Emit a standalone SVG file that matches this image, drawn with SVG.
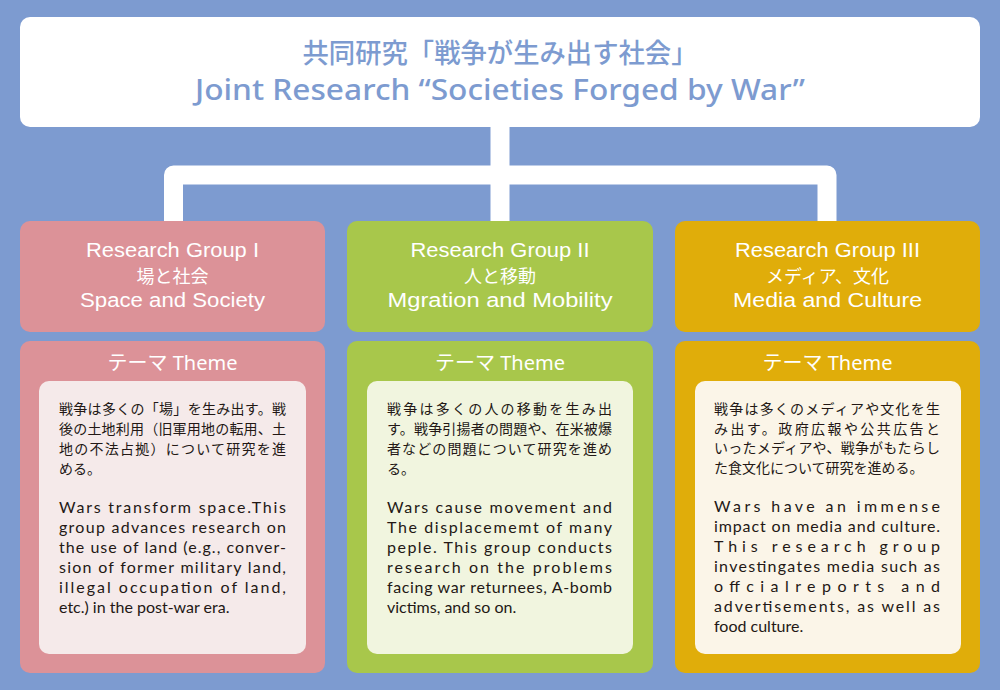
<svg xmlns="http://www.w3.org/2000/svg" width="1000" height="690" viewBox="0 0 1000 690">
<style>
.bg{fill:#7d9bd0}
.en{font-family:"Noto Sans","Open Sans",sans-serif}
.hen{font-family:"Liberation Sans","Noto Sans",sans-serif}
.ja{font-family:"Noto Sans CJK JP","Noto Sans",sans-serif}
.ttl{fill:#7d9bd0;font-weight:500}
.hd{fill:#ffffff;text-anchor:middle;font-size:20px}
.body{fill:#231815}
.bj{font-family:"Noto Sans CJK JP",sans-serif;font-size:14px}
.be{font-family:Lato,"Noto Sans",sans-serif;font-size:16px}
.pink{fill:#dc9298}
.green{fill:#a8c74b}
.gold{fill:#e0ad0a}
.pinkin{fill:#f5eaea}
.greenin{fill:#f1f5df}
.goldin{fill:#fbf5e8}
</style>
<rect class="bg" x="0" y="0" width="1000" height="690"/>

<g id="connectors">
<path d="M173.5 222 V175 H827 V222 M500 126 V222" fill="none" stroke="#ffffff" stroke-width="19" stroke-linejoin="round"/>
</g>

<g id="title">
<rect x="20" y="17" width="960" height="110" rx="10" fill="#ffffff"/>
<text class="ja ttl" x="500" y="63" font-size="27" text-anchor="middle" textLength="395" lengthAdjust="spacingAndGlyphs">共同研究「戦争が生み出す社会」</text>
<text class="en ttl" x="500" y="100" font-size="28" text-anchor="middle" textLength="610" lengthAdjust="spacingAndGlyphs">Joint Research “Societies Forged by War”</text>
</g>

<g id="group1">
<rect class="pink" x="20" y="221" width="305" height="111" rx="10"/>
<text class="hd"><tspan class="hen" x="172.5" y="257" textLength="173" lengthAdjust="spacingAndGlyphs">Research Group I</tspan><tspan class="ja" x="172.5" y="283" font-size="18">場と社会</tspan><tspan class="hen" x="172.5" y="306.5" textLength="185" lengthAdjust="spacingAndGlyphs">Space and Society</tspan></text>
</g>
<g id="group2">
<rect class="green" x="347" y="221" width="306" height="111" rx="10"/>
<text class="hd"><tspan class="hen" x="500" y="257" textLength="179" lengthAdjust="spacingAndGlyphs">Research Group II</tspan><tspan class="ja" x="500" y="283" font-size="18">人と移動</tspan><tspan class="hen" x="500" y="306.5" textLength="225" lengthAdjust="spacingAndGlyphs">Mgration and Mobility</tspan></text>
</g>
<g id="group3">
<rect class="gold" x="675" y="221" width="305" height="111" rx="10"/>
<text class="hd"><tspan class="hen" x="827.5" y="257" textLength="185" lengthAdjust="spacingAndGlyphs">Research Group III</tspan><tspan class="ja" x="827.5" y="283" font-size="18">メディア、文化</tspan><tspan class="hen" x="827.5" y="306.5" textLength="189" lengthAdjust="spacingAndGlyphs">Media and Culture</tspan></text>
</g>

<g id="theme1">
<rect class="pink" x="20" y="341" width="305" height="332" rx="10"/>
<text class="hd" x="172.5" y="370"><tspan class="ja">テーマ</tspan><tspan class="en"> Theme</tspan></text>
<rect class="pinkin" x="39" y="381" width="267" height="273" rx="10"/>
<g class="body">
<text class="bj" x="59" y="414" textLength="227">戦争は多くの「場」を生み出す。戦</text>
<text class="bj" x="59" y="434" textLength="227">後の土地利用（旧軍用地の転用、土</text>
<text class="bj" x="59" y="454" textLength="227">地の不法占拠）について研究を進</text>
<text class="bj" x="59" y="474">める。</text>
<text class="be" x="59" y="513" textLength="227">Wars transform space.This</text>
<text class="be" x="59" y="533" textLength="227">group advances research on</text>
<text class="be" x="59" y="553" textLength="227">the use of land (e.g., conver-</text>
<text class="be" x="59" y="573" textLength="227">sion of former military land,</text>
<text class="be" x="59" y="593" textLength="227">illegal occupation of land,</text>
<text class="be" x="59" y="613">etc.) in the post-war era.</text>
</g>
</g>

<g id="theme2">
<rect class="green" x="347" y="341" width="306" height="332" rx="10"/>
<text class="hd" x="500" y="370"><tspan class="ja">テーマ</tspan><tspan class="en"> Theme</tspan></text>
<rect class="greenin" x="367" y="381" width="266" height="273" rx="10"/>
<g class="body">
<text class="bj" x="387" y="414" textLength="225">戦争は多くの人の移動を生み出</text>
<text class="bj" x="387" y="434" textLength="225">す。戦争引揚者の問題や、在米被爆</text>
<text class="bj" x="387" y="454" textLength="225">者などの問題について研究を進め</text>
<text class="bj" x="387" y="474">る。</text>
<text class="be" x="387" y="513" textLength="225">Wars cause movement and</text>
<text class="be" x="387" y="533" textLength="225">The displacememt of many</text>
<text class="be" x="387" y="553" textLength="225">peple. This group conducts</text>
<text class="be" x="387" y="573" textLength="225">research on the problems</text>
<text class="be" x="387" y="593" textLength="225">facing war returnees, A-bomb</text>
<text class="be" x="387" y="613">victims, and so on.</text>
</g>
</g>

<g id="theme3">
<rect class="gold" x="675" y="341" width="305" height="332" rx="10"/>
<text class="hd" x="827.5" y="370"><tspan class="ja">テーマ</tspan><tspan class="en"> Theme</tspan></text>
<rect class="goldin" x="695" y="381" width="266" height="273" rx="10"/>
<g class="body">
<text class="bj" x="714" y="414" textLength="226">戦争は多くのメディアや文化を生</text>
<text class="bj" x="714" y="434" textLength="226">み出す。政府広報や公共広告と</text>
<text class="bj" x="714" y="453" textLength="226">いったメディアや、戦争がもたらし</text>
<text class="bj" x="714" y="473">た食文化について研究を進める。</text>
<text class="be" x="714" y="512" textLength="226">Wars have an immense</text>
<text class="be" x="714" y="532" textLength="226">impact on media and culture.</text>
<text class="be" x="714" y="552" textLength="226">This research group</text>
<text class="be" x="714" y="572" textLength="226">investingates media such as</text>
<text class="be" x="714" y="592" textLength="226">offcialreports and</text>
<text class="be" x="714" y="612" textLength="226">advertisements, as well as</text>
<text class="be" x="714" y="632">food culture.</text>
</g>
</g>
</svg>
